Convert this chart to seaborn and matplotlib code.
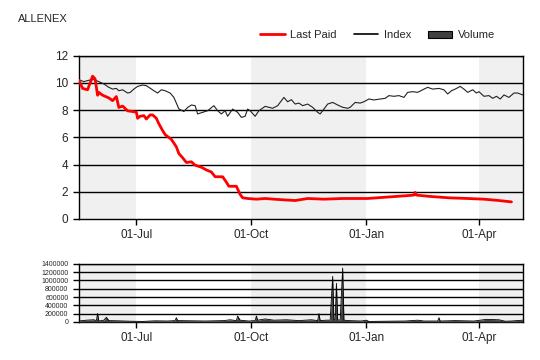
import matplotlib

matplotlib.use("Agg")
import matplotlib.pyplot as plt
import matplotlib.dates as mdates
from matplotlib.lines import Line2D
from matplotlib.patches import Patch
import numpy as np
import pandas as pd
import seaborn as sns

sns.set_style("white")
plt.rcParams["font.family"] = ["Liberation Sans", "DejaVu Sans"]

# day offsets are counted from 01-Jul
BASE = pd.Timestamp("2014-07-01")
X_START, X_END = -46, 309

lp_day = [-46, -43, -39, -35, -33, -31, -30, -27, -22, -19, -16, -14, -11, -7, -3, 0, 1,
          3, 6, 8, 11, 13, 16, 18, 21, 23, 28, 32, 34, 37, 40, 44, 47, 52, 56, 60, 63,
          69, 72, 74, 80, 83, 85, 89, 96, 103, 110, 118, 127, 137, 150, 165, 185, 200,
          215, 222, 223, 224, 235, 250, 265, 278, 290, 300]
lp_val = [10.2, 9.6, 9.5, 10.5, 10.3, 9.1, 9.3, 9.1, 8.9, 8.7, 9.0, 8.2, 8.3, 7.95, 7.9, 7.85, 7.4,
          7.55, 7.6, 7.35, 7.65, 7.65, 7.4, 7.0, 6.5, 6.2, 5.85, 5.3, 4.8, 4.5, 4.15, 4.2, 3.95,
          3.8, 3.6, 3.45, 3.1, 3.1, 2.7, 2.4, 2.4, 1.8, 1.55, 1.5, 1.45, 1.5, 1.45, 1.4, 1.35,
          1.5, 1.45, 1.5, 1.5, 1.6, 1.7, 1.75, 1.95, 1.75, 1.65, 1.55, 1.5, 1.45, 1.35, 1.25]

idx_day = [-46, -42, -38, -34, -30, -26, -22, -19, -16, -14, -11, -7, -5, -2, 1, 5, 8, 10,
           14, 17, 20, 23, 27, 30, 34, 38, 41, 44, 47, 49, 53, 57, 62, 65, 68, 71, 73, 77,
           81, 84, 87, 89, 91, 95, 98, 103, 109, 113, 118, 121, 124, 127, 130, 133, 137,
           141, 145, 147, 149, 153, 157, 161, 165, 169, 171, 175, 179, 182, 186, 190, 195,
           199, 202, 206, 210, 214, 217, 221, 225, 229, 233, 237, 242, 246, 249, 252, 255,
           259, 262, 265, 269, 272, 274, 278, 282, 285, 288, 291, 294, 298, 302, 305, 309]
idx_val = [10.24, 10.1, 10.2, 10.25, 10.1, 9.93, 9.68, 9.55, 9.6, 9.43, 9.5, 9.26, 9.3, 9.55,
           9.75, 9.85, 9.8, 9.68, 9.43, 9.26, 9.5, 9.43, 9.26, 8.94, 8.09, 7.9, 8.2, 8.38,
           8.33, 7.72, 7.84, 7.96, 8.33, 7.96, 7.72, 7.96, 7.55, 8.08, 7.84, 7.47, 7.55, 8.08,
           7.96, 7.55, 7.96, 8.28, 8.14, 8.33, 8.94, 8.62, 8.77, 8.45, 8.52, 8.33, 8.45, 8.21,
           7.84, 7.72, 7.96, 8.45, 8.57, 8.38, 8.21, 8.14, 8.21, 8.57, 8.52, 8.62, 8.82, 8.75,
           8.82, 8.87, 9.07, 9.02, 9.07, 8.94, 9.31, 9.36, 9.31, 9.5, 9.68, 9.55, 9.6, 9.5,
           9.19, 9.43, 9.55, 9.75, 9.55, 9.31, 9.5, 9.26, 9.36, 9.02, 9.07, 8.87, 9.02, 8.82,
           9.12, 8.94, 9.26, 9.26, 9.12]

vol_day = [-46, -40, -34, -32, -31, -30, -26, -24, -22, -15, -5, 5, 15, 25, 31, 32, 33, 45,
           55, 70, 75, 80, 81, 83, 90, 95, 96, 97, 103, 110, 120, 130, 140, 145, 146, 147,
           152, 155, 157, 158, 159, 160, 161, 163, 165, 166, 170, 180, 184, 186, 200, 215,
           225, 230, 241, 242, 243, 255, 270, 275, 280, 290, 295, 300, 309]
vol_val = [20000, 40000, 50000, 30000, 200000, 20000, 40000, 110000, 30000, 25000, 15000,
           10000, 25000, 20000, 30000, 100000, 30000, 25000, 20000, 30000, 50000, 30000,
           140000, 40000, 20000, 30000, 140000, 40000, 70000, 40000, 50000, 30000, 50000,
           30000, 200000, 30000, 40000, 40000, 1100000, 60000, 40000, 930000, 50000, 40000,
           1300000, 40000, 30000, 20000, 40000, 10000, 15000, 20000, 40000, 20000, 20000,
           100000, 20000, 30000, 20000, 40000, 60000, 50000, 15000, 20000, 40000]

TICK_DATES = ["2014-07-01", "2014-10-01", "2015-01-01", "2015-04-01"]


def to_dates(days):
    return BASE + pd.to_timedelta(days, unit="D")


def shade(ax):
    x0, x1 = to_dates([X_START, X_END])
    t = pd.to_datetime(TICK_DATES)
    for a, b in [(x0, t[0]), (t[1], t[2]), (t[3], x1)]:
        ax.axvspan(a, b, color="#f0f0f0", lw=0, zorder=0)
    ax.set_xlim(x0, x1)
    ax.set_xticks(t)
    ax.xaxis.set_major_formatter(mdates.DateFormatter("%d-%b"))
    ax.tick_params(axis="both", direction="out", length=4, width=1, color="black",
                   bottom=True, left=True)
    for s in ax.spines.values():
        s.set_color("black")
        s.set_linewidth(1)
    ax.set_xlabel("")
    ax.set_ylabel("")


fig = plt.figure(figsize=(5.4, 3.6), dpi=100)
ax = fig.add_axes([0.146, 0.392, 0.822, 0.453])
axv = fig.add_axes([0.146, 0.106, 0.822, 0.161])

shade(ax)
for v in range(2, 13, 2):
    ax.axhline(v, color="black", lw=1, zorder=1)
sns.lineplot(x=to_dates(idx_day), y=idx_val, ax=ax, color="#222222", lw=0.8, zorder=3)
sns.lineplot(x=to_dates(lp_day), y=lp_val, ax=ax, color="#ff0000", lw=2, zorder=4)
ax.set_ylim(0, 12)
ax.set_yticks(range(0, 13, 2))
ax.tick_params(labelsize=8.5)
shade(ax)

shade(axv)
for v in range(200000, 1400001, 200000):
    axv.axhline(v, color="black", lw=1, zorder=1)
vd = to_dates(vol_day)
axv.fill_between(vd, vol_val, color="#404040", zorder=3, lw=0)
sns.lineplot(x=vd, y=vol_val, ax=axv, color="black", lw=0.6, zorder=4)
axv.set_ylim(0, 1400000)
axv.set_yticks(range(0, 1400001, 200000))
axv.set_yticklabels([str(v) for v in range(0, 1400001, 200000)])
axv.tick_params(axis="y", labelsize=5, length=3)
axv.tick_params(axis="x", labelsize=8.5)
shade(axv)

fig.text(0.033, 0.948, "ALLENEX", fontsize=8, ha="left", va="center")

handles = [
    Line2D([], [], color="#ff0000", lw=2),
    Line2D([], [], color="black", lw=1.2),
    Patch(facecolor="#404040", edgecolor="black", lw=0.8),
]
fig.legend(handles, ["Last Paid", "Index", "Volume"], loc="center right",
           bbox_to_anchor=(0.935, 0.902), ncol=3, frameon=False, fontsize=8,
           handlelength=2.2, handletextpad=0.5, columnspacing=1.5)

fig.savefig("out.png", dpi=100)
